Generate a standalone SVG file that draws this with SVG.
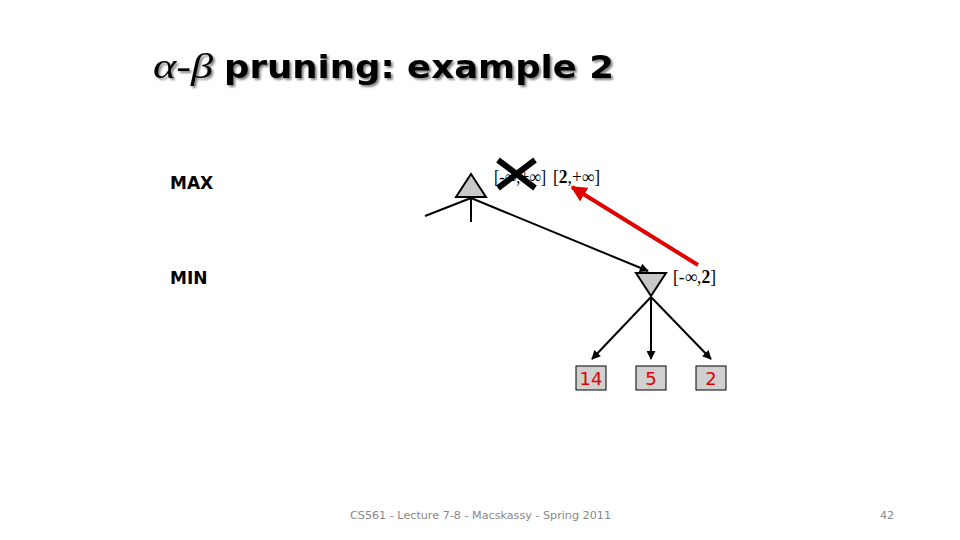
<svg xmlns="http://www.w3.org/2000/svg" width="960" height="540" viewBox="0 0 960 540">
<defs>
<style>
.lbl{font-family:"DejaVu Sans",Verdana,sans-serif;font-weight:bold;font-size:17px;fill:#000}
.iv{font-family:"Liberation Serif","Times New Roman",serif;font-size:18px;fill:#000}
.edge{stroke:#000;stroke-width:2;fill:none}
.tri{fill:#c8c8c8;stroke:#000;stroke-width:2}
.box{fill:#d0d0d0;stroke:#000;stroke-width:1}
.num{font-family:"DejaVu Sans",Verdana,sans-serif;font-size:18px;fill:#e00000;text-anchor:middle}
.foot{font-family:"DejaVu Sans",Verdana,sans-serif;font-size:11px;fill:#888}
</style>
<marker id="ah" viewBox="0 0 10 10" refX="9" refY="5" markerWidth="10" markerHeight="9" orient="auto" markerUnits="userSpaceOnUse">
<path d="M0,0 L10,5 L0,10 z" fill="#000"/>
</marker>
<marker id="ahr" viewBox="0 0 10 10" refX="9" refY="5" markerWidth="4" markerHeight="4" orient="auto" markerUnits="strokeWidth">
<path d="M0,0 L10,5 L0,10 z" fill="#e00000"/>
</marker>
<filter id="sh" x="-5%" y="-20%" width="110%" height="140%">
<feGaussianBlur in="SourceAlpha" stdDeviation="1.2"/>
<feOffset dx="2" dy="2" result="o"/>
<feComponentTransfer><feFuncA type="linear" slope="0.5"/></feComponentTransfer>
<feMerge><feMergeNode/><feMergeNode in="SourceGraphic"/></feMerge>
</filter>
</defs>
<rect width="960" height="540" fill="#fff"/>
<g id="title" filter="url(#sh)">
<text x="153" y="78" font-family="Liberation Serif,serif" font-style="italic" font-size="36" textLength="60" lengthAdjust="spacingAndGlyphs" fill="#000">α-β</text>
<text x="224" y="78" font-family="DejaVu Sans,Verdana,sans-serif" font-weight="bold" font-size="32" textLength="390" lengthAdjust="spacingAndGlyphs" fill="#000">pruning: example 2</text>
</g>
<g id="levels">
<text class="lbl" x="170" y="189">MAX</text>
<text class="lbl" x="170" y="284">MIN</text>
</g>
<g id="connectors">
<line class="edge" x1="471" y1="198" x2="425" y2="216"/>
<line class="edge" x1="471" y1="198" x2="471" y2="222"/>
<line class="edge" x1="471" y1="198" x2="648" y2="271" marker-end="url(#ah)"/>
<line class="edge" x1="651" y1="297" x2="592" y2="359" marker-end="url(#ah)"/>
<line class="edge" x1="651" y1="297" x2="651" y2="359" marker-end="url(#ah)"/>
<line class="edge" x1="651" y1="297" x2="711" y2="359" marker-end="url(#ah)"/>
<line x1="698" y1="265" x2="572" y2="187" stroke="#e00000" stroke-width="4" marker-end="url(#ahr)"/>
</g>
<g id="max-node">
<polygon class="tri" points="471,174 456,197 486,197"/>
<text class="iv" x="494" y="183" textLength="52" lengthAdjust="spacingAndGlyphs">[-∞,+∞]</text>
<text class="iv" x="553" y="183" textLength="47" lengthAdjust="spacingAndGlyphs">[<tspan font-weight="bold">2</tspan>,+∞]</text>
<g stroke="#000" stroke-width="6" stroke-linecap="butt">
<line x1="498" y1="160" x2="535" y2="188"/>
<line x1="535" y1="160" x2="498" y2="188"/>
</g>
</g>
<g id="min-node">
<polygon class="tri" points="636,273 666,273 651,296"/>
<text class="iv" x="673" y="283" textLength="43" lengthAdjust="spacingAndGlyphs">[-∞,<tspan font-weight="bold">2</tspan>]</text>
</g>
<g id="leaf-14">
<rect class="box" x="576" y="366" width="30" height="24"/>
<text class="num" x="591" y="385">14</text>
</g>
<g id="leaf-5">
<rect class="box" x="636" y="366" width="30" height="24"/>
<text class="num" x="651" y="385">5</text>
</g>
<g id="leaf-2">
<rect class="box" x="696" y="366" width="30" height="24"/>
<text class="num" x="711" y="385">2</text>
</g>
<g id="footer">
<text class="foot" x="350" y="519" textLength="261" lengthAdjust="spacingAndGlyphs">CS561 - Lecture 7-8 - Macskassy - Spring 2011</text>
<text class="foot" x="880" y="519">42</text>
</g>
</svg>
